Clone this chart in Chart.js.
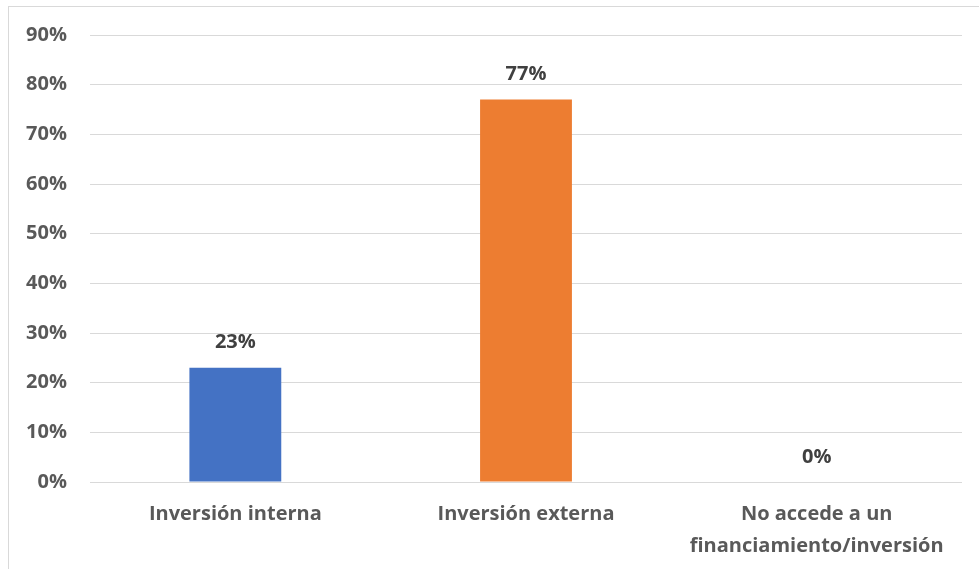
<!DOCTYPE html>
<html lang="es">
<head>
  <meta charset="UTF-8">
  <title>Financiamiento / inversión</title>
  <script src="https://cdn.jsdelivr.net/npm/chart.js"></script>
  <style>
    html, body {
      margin: 0;
      padding: 0;
      background: #ffffff;
      overflow: hidden;
    }
    /* thin frame around the chart, open on the right/bottom like the cropped sheet */
    .frame {
      position: absolute;
      left: 8px;
      top: 6px;
      width: 990px;
      height: 580px;
      border-left: 1px solid #d9d9d9;
      border-top: 1px solid #d9d9d9;
    }
    .chart-box {
      position: absolute;
      left: 0;
      top: 0;
      width: 979px;
      height: 569px;
    }
  </style>
</head>
<body>
  <div class="frame"></div>
  <div class="chart-box">
    <canvas id="barChart"></canvas>
  </div>
  <script>
    // Categories and percentages
    const categories = [
      'Inversión interna',
      'Inversión externa',
      ['No accede a un', 'financiamiento/inversión']
    ];
    const percentages = [23, 77, 0];
    const barColors = ['#4472c4', '#ed7d31', '#a5a5a5'];
    const yTicks = [0, 10, 20, 30, 40, 50, 60, 70, 80, 90];

    const FONT = '"Open Sans"';

    // Value labels above each bar
    const valueLabels = {
      id: 'valueLabels',
      afterDatasetsDraw(chart) {
        const ctx = chart.ctx;
        const meta = chart.getDatasetMeta(0);
        ctx.save();
        ctx.font = 'bold 20px ' + FONT;
        ctx.fillStyle = '#404040';
        ctx.textAlign = 'center';
        ctx.textBaseline = 'middle';
        meta.data.forEach((bar, i) => {
          ctx.fillText(percentages[i] + '%', bar.x, bar.y - 25);
        });
        ctx.restore();
      }
    };

    new Chart(document.getElementById('barChart'), {
      type: 'bar',
      data: {
        labels: categories,
        datasets: [{
          data: percentages,
          backgroundColor: barColors,
          categoryPercentage: 1.0,
          barPercentage: 0.316
        }]
      },
      options: {
        responsive: true,
        maintainAspectRatio: false,
        animation: false,
        layout: {
          padding: { left: 0, right: 17, top: 35, bottom: 0 }
        },
        plugins: {
          legend: { display: false },
          tooltip: { enabled: false }
        },
        scales: {
          x: {
            grid: { display: false, drawTicks: false },
            border: { display: false },
            ticks: {
              color: '#595959',
              padding: 16,
              maxRotation: 0,
              autoSkip: false,
              font: { family: FONT, size: 20, weight: 'bold', lineHeight: 1.6 }
            },
            afterFit(scale) { scale.height = 87; }
          },
          y: {
            min: 0,
            max: 90,
            afterBuildTicks(scale) {
              scale.ticks = yTicks.map(v => ({ value: v }));
            },
            grid: { color: '#d9d9d9', lineWidth: 1, drawTicks: false },
            border: { display: false },
            ticks: {
              color: '#595959',
              padding: 23,
              font: { family: FONT, size: 20, weight: 'bold' },
              callback: v => v + '%'
            },
            afterFit(scale) { scale.width = 90; }
          }
        }
      },
      plugins: [valueLabels]
    });
  </script>
</body>
</html>
